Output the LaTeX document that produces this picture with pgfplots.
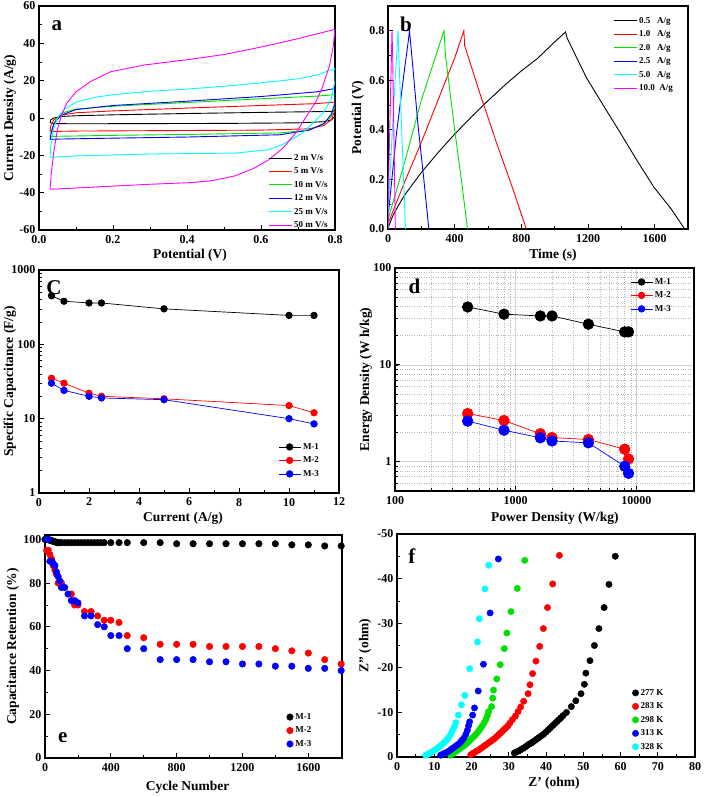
\documentclass[border=0pt]{standalone}
\usepackage{fontspec}
\setmainfont{Liberation Serif}
\usepackage{pgfplots}
\pgfplotsset{compat=1.18}
\definecolor{ored}{HTML}{FF0000}
\definecolor{ogreen}{HTML}{00E000}
\definecolor{oblue}{HTML}{0000FF}
\definecolor{ocyan}{HTML}{00FFFF}
\definecolor{omag}{HTML}{FF00FF}
\tikzset{letter/.style={font=\fontsize{21}{21}\selectfont\bfseries}}
\pgfplotsset{
  panel/.style={
    scale only axis,
    anchor=south west,
    axis line style={line width=1.4pt},
    tick align=inside,
    xtick pos=lower, ytick pos=left,
    major tick length=5pt, minor tick length=3pt,
    major tick style={black, line width=0.9pt},
    minor tick style={black, line width=0.7pt},
    tick label style={font=\fontsize{12}{13}\selectfont\bfseries},
    xticklabel style={yshift=-1.5pt},
    /pgf/number format/assume math mode=true,
    /pgf/number format/1000 sep={},
    label style={font=\fontsize{13.5}{14}\selectfont\bfseries},
    legend style={draw=none, fill=none, font=\fontsize{9}{9}\selectfont\bfseries,
      anchor=north west, row sep=2pt, inner sep=0pt},
    legend cell align=left,
  },
  lineleg/.style={legend image code/.code={\draw[##1] (0pt,0pt) -- (23pt,0pt);}},
  markleg/.style={legend image code/.code={\draw[mark repeat=2,mark phase=2,##1] plot coordinates {(0pt,0pt)(11pt,0pt)(22pt,0pt)};}},
}
\begin{document}
\begin{tikzpicture}
\path[use as bounding box] (0,0) rectangle (704pt,797pt);

% ---------------- a: CV
\begin{axis}[panel, lineleg, at={(39pt,567pt)}, width=296pt, height=224pt,
  xmin=0, xmax=0.8, ymin=-60, ymax=60,
  xtick={0,0.2,0.4,0.6,0.8}, ytick={-60,-40,-20,0,20,40,60}, minor tick num=1,
  xticklabel style={/pgf/number format/.cd, fixed, fixed zerofill, precision=1},
  xlabel={Potential (V)}, ylabel={Current Density (A/g)},
  xlabel style={at={(axis description cs:0.51,-0.112)}, anchor=center},
  ylabel style={at={(axis description cs:-0.098,0.5)}, anchor=center},
  legend style={at={(0.774,0.348)}},
  every axis plot/.append style={line width=0.9pt}]
\addplot[black] coordinates {(0.03,-2.5)(0.032,-1)(0.04,0)(0.06,0.8)(0.1,1.2)(0.2,1.7)(0.4,2.4)(0.6,3.0)(0.75,3.4)(0.795,3.6)(0.8,3)(0.8,1)(0.79,-1)(0.77,-2)(0.7,-2.6)(0.5,-2.9)(0.3,-3)(0.1,-3.1)(0.04,-3)(0.03,-2.5)};
\addplot[ored] coordinates {(0.03,-7)(0.032,-4)(0.04,-1)(0.06,1.5)(0.1,2.8)(0.2,3.8)(0.4,5.3)(0.6,6.7)(0.75,7.7)(0.8,8.5)(0.8,4)(0.79,-1)(0.77,-4)(0.73,-5.8)(0.6,-6.5)(0.3,-6.8)(0.1,-7)(0.04,-7.2)(0.03,-7)};
\addplot[ogreen] coordinates {(0.03,-10)(0.035,-6)(0.045,-1)(0.06,2.5)(0.1,4.8)(0.2,6.3)(0.4,8.3)(0.6,10.3)(0.75,11.7)(0.8,12.5)(0.8,6)(0.79,1)(0.77,-3)(0.73,-6.5)(0.65,-8)(0.4,-8.8)(0.2,-9.3)(0.05,-9.8)(0.03,-10)};
\addplot[oblue] coordinates {(0.03,-11.5)(0.033,-8)(0.04,-3)(0.06,1.5)(0.1,4.5)(0.2,6.7)(0.4,9)(0.6,11.5)(0.75,14)(0.8,15.8)(0.8,8)(0.79,2)(0.77,-3)(0.73,-6.5)(0.65,-9)(0.4,-10.2)(0.2,-10.8)(0.05,-11.3)(0.03,-11.5)};
\addplot[ocyan] coordinates {(0.03,-21)(0.032,-15)(0.038,-7)(0.05,0)(0.07,5)(0.1,8.5)(0.15,11)(0.2,12.5)(0.3,14.3)(0.4,15.5)(0.5,17)(0.6,18.8)(0.7,21)(0.75,23)(0.8,26.5)(0.8,20)(0.79,10)(0.767,2.5)(0.713,-8)(0.66,-14)(0.62,-17)(0.53,-18.8)(0.3,-19.3)(0.1,-20.3)(0.04,-21)(0.03,-21)};
\addplot[omag] coordinates {(0.03,-38.2)(0.033,-30)(0.04,-18)(0.05,-6)(0.06,1)(0.075,8)(0.1,14)(0.139,19.5)(0.194,24.8)(0.285,28.4)(0.4,31.2)(0.5,34)(0.6,38)(0.7,42.5)(0.8,47.5)(0.795,38)(0.785,28)(0.765,16)(0.749,9)(0.72,0)(0.694,-8)(0.66,-16)(0.62,-22.5)(0.58,-27)(0.53,-31)(0.47,-33.5)(0.412,-34.6)(0.3,-35.5)(0.2,-36.5)(0.1,-37.5)(0.03,-38.2)};
\legend{2 m V/s, 5 m V/s, 10 m V/s, 12 m V/s, 25 m V/s, 50 m V/s}
\node[letter] at (rel axis cs:0.06,0.91) {a};
\end{axis}

% ---------------- b: GCD
\begin{axis}[panel, lineleg, at={(388pt,568pt)}, width=300pt, height=223pt,
  xmin=0, xmax=1800, ymin=0, ymax=0.9,
  xtick={0,400,800,1200,1600}, ytick={0,0.2,0.4,0.6,0.8}, minor tick num=1,
  yticklabel style={/pgf/number format/.cd, fixed, fixed zerofill, precision=1},
  xlabel={Time (s)}, ylabel={Potential (V)},
  xlabel style={at={(axis description cs:0.55,-0.117)}, anchor=center},
  ylabel style={at={(axis description cs:-0.1,0.5)}, anchor=center},
  legend style={at={(0.75,0.96)}},
  every axis plot/.append style={line width=0.9pt}]
\addplot[black] coordinates {(0,0)(10,0.022)(30,0.055)(60,0.092)(100,0.137)(150,0.183)(200,0.228)(300,0.308)(400,0.383)(500,0.452)(600,0.518)(700,0.58)(800,0.638)(900,0.69)(1000,0.755)(1065,0.795)(1075,0.77)(1191,0.61)(1300,0.49)(1392,0.39)(1500,0.27)(1594,0.17)(1700,0.08)(1780,0)};
\addplot[ored] coordinates {(0,0)(5,0.03)(100,0.19)(200,0.35)(300,0.52)(400,0.69)(455,0.8)(460,0.74)(550,0.55)(650,0.35)(750,0.16)(830,0)};
\addplot[ogreen] coordinates {(0,0)(5,0.05)(100,0.27)(200,0.52)(336,0.8)(345,0.7)(400,0.4)(440,0.2)(477,0)};
\addplot[oblue] coordinates {(0,0)(5,0.08)(50,0.38)(100,0.65)(120,0.75)(129,0.8)(140,0.72)(180,0.42)(215,0.2)(245,0)};
\addplot[ocyan] coordinates {(0,0)(3,0.1)(30,0.45)(60,0.8)(65,0.7)(85,0.35)(105,0)};
\addplot[omag] coordinates {(0,0)(2,0.15)(24,0.8)(28,0.7)(44,0)};
\legend{0.5~~~A/g, 1.0~~~A/g, 2.0~~~A/g, 2.5~~~A/g, 5.0~~~A/g, 10.0~~A/g}
\node[letter] at (rel axis cs:0.06,0.92) {b};
\end{axis}

% ---------------- c: specific capacitance
\begin{axis}[panel, markleg, ymode=log, log ticks with fixed point,
  at={(39pt,304pt)}, width=300pt, height=223pt,
  xmin=0, xmax=12, ymin=1, ymax=1000,
  xtick={0,2,4,6,8,10,12}, minor xtick={1,3,5,7,9,11},
  xlabel={Current (A/g)}, ylabel={Specific Capacitance (F/g)},
  xlabel style={at={(axis description cs:0.48,-0.112)}, anchor=center},
  ylabel style={at={(axis description cs:-0.097,0.5)}, anchor=center},
  legend style={at={(0.797,0.233)}},
  every axis plot/.append style={line width=0.7pt, mark=*, mark size=3.3pt}]
\addplot[black, mark options={fill=black}] coordinates {(0.5,450)(1,380)(2,360)(2.5,360)(5,300)(10,245)(11,245)};
\addplot[ored, mark options={fill=ored}] coordinates {(0.5,35)(1,30)(2,22)(2.5,20)(5,18.5)(10,15)(11,12)};
\addplot[oblue, mark options={fill=oblue}] coordinates {(0.5,30)(1,24)(2,20)(2.5,19)(5,18)(10,10)(11,8.5)};
\legend{M-1, M-2, M-3}
\node[letter] at (rel axis cs:0.05,0.92) {C};
\end{axis}

% ---------------- d: Ragone
\begin{axis}[panel, markleg, xmode=log, ymode=log, log ticks with fixed point,
  at={(395pt,306pt)}, width=299pt, height=223pt,
  xmin=100, xmax=30000, ymin=0.5, ymax=100,
  grid=both, major grid style={gray!35, line width=0.7pt},
  minor grid style={gray!55, dotted, line width=0.7pt},
  xlabel={Power Density (W/kg)}, ylabel={Energy Density (W h/kg)},
  xlabel style={at={(axis description cs:0.535,-0.121)}, anchor=center},
  ylabel style={at={(axis description cs:-0.097,0.5)}, anchor=center},
  legend style={at={(0.786,0.964)}},
  legend image post style={mark size=3.3pt},
  every axis plot/.append style={line width=0.7pt, mark=*, mark size=5.3pt}]
\addplot[black, mark options={fill=black}] coordinates {(400,39.6)(800,33.4)(1600,32)(2000,32)(4000,26.3)(8000,21.9)(8600,21.9)};
\addplot[ored, mark options={fill=ored}] coordinates {(400,3.15)(800,2.67)(1600,1.95)(2000,1.78)(4000,1.7)(8000,1.35)(8600,1.07)};
\addplot[oblue, mark options={fill=oblue}] coordinates {(400,2.63)(800,2.12)(1600,1.77)(2000,1.64)(4000,1.57)(8000,0.9)(8600,0.76)};
\legend{M-1, M-2, M-3}
\node[letter] at (rel axis cs:0.065,0.92) {d};
\end{axis}

% ---------------- e: cycling
\begin{axis}[panel, at={(45pt,39pt)}, width=297pt, height=223pt,
  xmin=0, xmax=1805, ymin=0, ymax=102,
  xtick={0,400,800,1200,1600}, ytick={0,20,40,60,80,100}, minor tick num=1,
  xlabel={Cycle Number}, ylabel={Capacitance Retention (\%)},
  xlabel style={at={(axis description cs:0.48,-0.13)}, anchor=center},
  ylabel style={at={(axis description cs:-0.108,0.5)}, anchor=center},
  legend style={at={(0.813,0.21)}},
  every axis plot/.append style={only marks, mark=*, mark size=3.3pt}]
\addplot[black, mark options={fill=black}] coordinates {(0,100)(10,100)(20,100)(30,99.5)(40,99.5)(50,99)(60,99)(70,98.5)(80,98.5)(90,98.5)(100,98.5)(120,98.5)(140,98.5)(160,98.5)(180,98.5)(200,98.5)(220,98.5)(240,98.5)(260,98.5)(280,98.5)(300,98.5)(320,98.5)(340,98.5)(360,98.5)(400,98.5)(450,98.5)(500,98.5)(600,98.5)(700,98.5)(800,98)(900,98)(1000,98)(1100,98)(1200,98)(1300,98)(1400,98)(1500,97.5)(1600,97.5)(1700,97)(1800,97)};
\addplot[ored, mark options={fill=ored}] coordinates {(10,95)(20,95)(30,93)(40,91)(50,88)(60,86)(70,84)(80,80)(100,80)(160,75)(180,70)(200,70)(240,67)(280,67)(320,65)(360,63)(400,63)(450,62)(500,56)(600,55)(700,52)(800,52)(900,52)(1000,51)(1100,51)(1200,51)(1300,51)(1400,50)(1500,49)(1600,48)(1700,45)(1800,43)};
\addplot[oblue, mark options={fill=oblue}] coordinates {(10,100)(20,100)(30,90)(40,90)(50,89)(60,88)(70,85)(80,83)(90,81)(100,78)(120,78)(140,75)(160,72)(180,72)(200,71)(240,65)(280,65)(320,61)(360,60)(400,56)(450,56)(500,50)(600,50)(700,45)(800,45)(900,45)(1000,44)(1100,44)(1200,43)(1300,43)(1400,42)(1500,42)(1600,41)(1700,41)(1800,40)};
\legend{M-1, M-2, M-3}
\node[letter] at (rel axis cs:0.06,0.09) {e};
\end{axis}

% ---------------- f: Nyquist
\begin{axis}[panel, at={(397pt,40pt)}, width=298pt, height=223pt,
  xmin=0, xmax=80, ymin=-50, ymax=0, y dir=reverse,
  xtick={0,10,...,80}, ytick={-50,-40,-30,-20,-10,0}, minor tick num=1,
  xlabel={Z' (ohm)}, ylabel={Z'' (ohm)},
  xlabel style={at={(axis description cs:0.527,-0.117)}, anchor=center},
  ylabel style={at={(axis description cs:-0.107,0.5)}, anchor=center},
  legend style={at={(0.789,0.314)}},
  every axis plot/.append style={only marks, mark=*, mark size=3.2pt}]
\addplot[black, mark options={fill=black}] coordinates {(31.5,-0.9)(32,-1.1)(32.5,-1.3)(33,-1.5)(33.5,-1.8)(34,-2)(34.5,-2.3)(35,-2.6)(35.5,-2.9)(36,-3.1)(36.5,-3.4)(37,-3.7)(37.5,-4)(38,-4.3)(38.5,-4.6)(39,-4.9)(39.5,-5.2)(40,-5.6)(40.5,-6)(41,-6.4)(41.5,-6.8)(42,-7.2)(42.5,-7.6)(43,-8)(43.5,-8.4)(44,-8.8)(44.6,-9.3)(45.5,-10)(46.8,-11.3)(48,-12.6)(49.4,-14.2)(50.3,-16.3)(50.7,-18.8)(51.8,-21.6)(53,-25)(54.2,-28.8)(55.6,-33.5)(56.9,-38.7)(58.6,-45)};
\addplot[ored, mark options={fill=ored}] coordinates {(19.8,-0.5)(20.3,-0.8)(20.8,-1)(21.3,-1.3)(21.8,-1.5)(22.3,-1.8)(22.8,-2.1)(23.3,-2.4)(23.8,-2.7)(24.3,-3)(24.8,-3.3)(25.3,-3.6)(25.8,-3.9)(26.3,-4.2)(26.8,-4.6)(27.3,-5)(27.8,-5.4)(28.3,-5.8)(28.8,-6.2)(29.3,-6.6)(29.8,-7)(30.3,-7.6)(31,-8.4)(31.8,-9.2)(32.5,-10.2)(33.2,-11.2)(34,-12.5)(35.2,-14.2)(35.7,-16.2)(36.4,-18.7)(37.3,-21.5)(38.3,-24.8)(39.3,-28.8)(40.4,-33.5)(41.8,-38.8)(43.6,-45.2)};
\addplot[ogreen, mark options={fill=ogreen}] coordinates {(14.4,-0.4)(14.9,-0.7)(15.4,-1)(15.9,-1.3)(16.4,-1.6)(16.9,-1.9)(17.4,-2.2)(17.9,-2.5)(18.4,-2.8)(18.9,-3.2)(19.4,-3.6)(19.9,-4)(20.4,-4.4)(20.9,-4.8)(21.4,-5.3)(21.9,-5.8)(22.4,-6.4)(22.9,-7)(23.4,-7.7)(23.9,-8.5)(24.3,-9.3)(24.6,-10.2)(25.4,-11.3)(25.7,-13.2)(25.9,-15)(26.8,-17.5)(27.7,-20.7)(28.8,-24.3)(29.5,-27.8)(30.6,-32.6)(32.3,-37.8)(34.3,-44.1)};
\addplot[oblue, mark options={fill=oblue}] coordinates {(11.7,-0.4)(12.2,-0.6)(12.7,-0.8)(13.2,-1)(13.7,-1.2)(14.2,-1.5)(14.7,-1.8)(15.2,-2.1)(15.7,-2.4)(16.2,-2.7)(16.7,-3)(17.1,-3.4)(17.5,-3.8)(18,-4.3)(18.5,-5.1)(18.9,-6)(19.2,-7)(19.5,-7.9)(20.3,-9.4)(20.8,-11)(21.8,-14.8)(23.2,-20.8)(25,-32.3)(27.2,-44.4)};
\addplot[ocyan, mark options={fill=ocyan}] coordinates {(7.7,-0.4)(8.2,-0.6)(8.7,-0.8)(9.2,-1)(9.7,-1.3)(10.2,-1.6)(10.7,-1.9)(11.2,-2.2)(11.7,-2.5)(12.2,-2.9)(12.7,-3.3)(13.2,-3.7)(13.6,-4.1)(14,-4.5)(14.5,-5.2)(14.9,-6)(15.4,-6.8)(15.8,-7.7)(16.5,-9.4)(17.3,-11.7)(18.2,-13.8)(19.5,-19.8)(21.6,-25.8)(22.1,-31)(23.6,-37.7)(24.6,-43)};
\legend{277 K, 283 K, 298 K, 313 K, 328 K}
\node[letter] at (rel axis cs:0.05,0.9) {f};
\end{axis}
\end{tikzpicture}
\end{document}
